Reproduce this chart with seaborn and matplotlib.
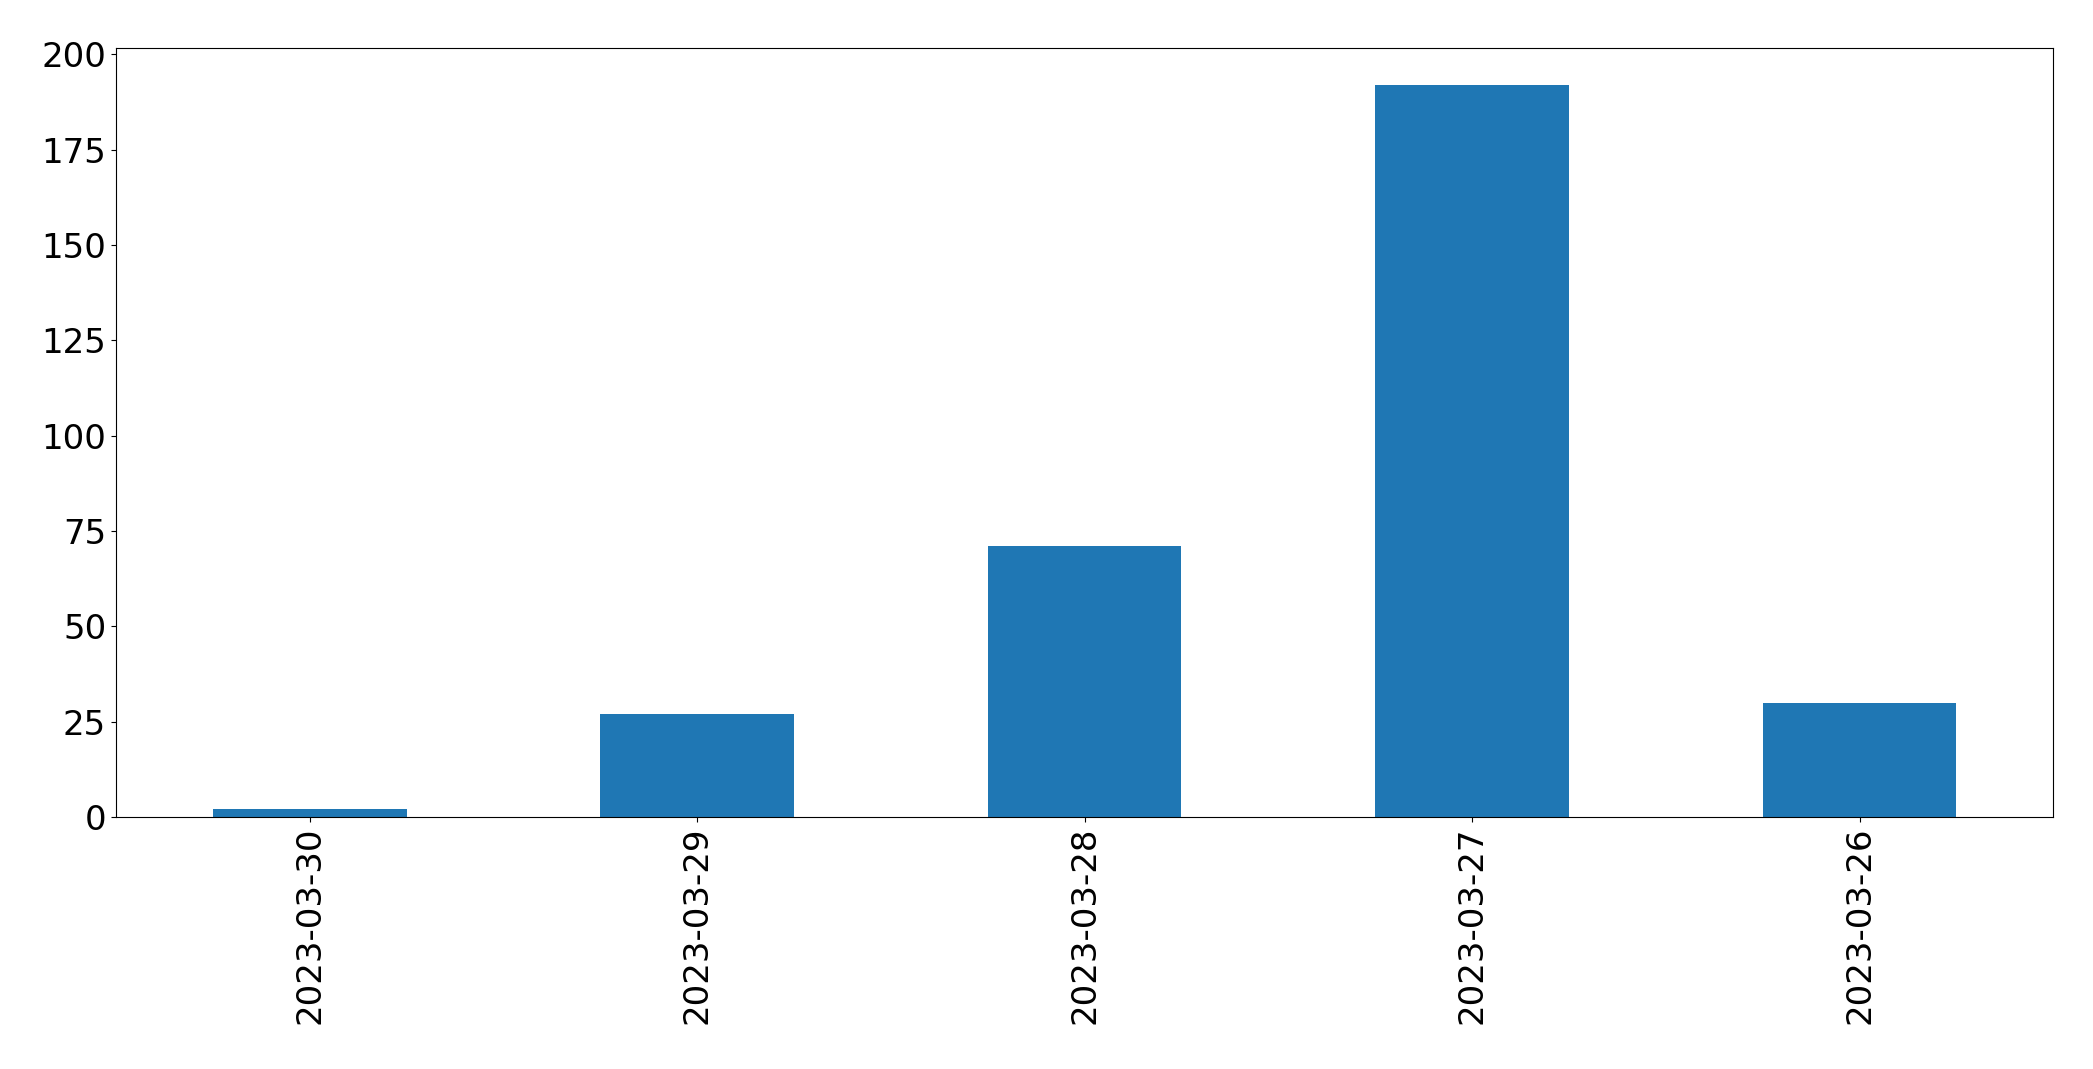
import pandas as pd
import seaborn as sns
import matplotlib.pyplot as plt

dates = ["2023-03-30", "2023-03-29", "2023-03-28", "2023-03-27", "2023-03-26"]
counts = [2, 27, 71, 192, 30]

if __name__ == "__main__":
    df = pd.DataFrame({"date": dates, "count": counts})
    plt.rc('font', size=24.5)
    fig, ax = plt.subplots(figsize=(20.93, 10.69), dpi=100)
    sns.barplot(data=df, x="date", y="count", order=dates, color="#1f77b4",
                saturation=1, width=0.5, ax=ax)
    ax.set(xlabel='', ylabel='')
    ax.tick_params(axis='x', rotation=90)
    ax.set_xlim(-0.5, len(dates) - 0.5)
    ax.margins(y=0.05)
    for s in ax.spines.values():
        s.set_color('black')
    fig.subplots_adjust(left=0.0554, right=0.981, top=0.955, bottom=0.2357)
    fig.savefig("out.png")
